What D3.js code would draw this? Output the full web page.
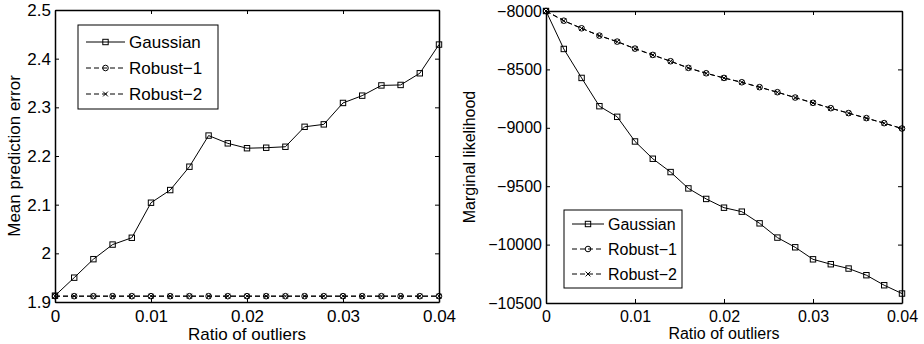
<!DOCTYPE html>
<html>
<head>
<meta charset="utf-8">
<script src="https://cdn.jsdelivr.net/npm/d3@7/dist/d3.min.js"></script>
<style>
  body { margin: 0; background: #fff; }
  svg { display: block; font-family: "Liberation Sans", Arial, sans-serif; }
</style>
</head>
<body>
<svg id="chart" width="924" height="344"></svg>
<script>
// ratio of outliers, shared by both panels
const ratios = [0, 0.002, 0.004, 0.006, 0.008, 0.010, 0.012, 0.014, 0.016, 0.018, 0.020,
                0.022, 0.024, 0.026, 0.028, 0.030, 0.032, 0.034, 0.036, 0.038, 0.040];
const seriesNames = ["Gaussian", "Robust\u22121", "Robust\u22122"];
const xTicks = [0, 0.01, 0.02, 0.03, 0.04];

// left panel: mean prediction error
const errGaussian = [1.913, 1.950, 1.988, 2.018, 2.032, 2.104, 2.130, 2.178, 2.242, 2.226, 2.216,
                     2.217, 2.219, 2.260, 2.265, 2.309, 2.324, 2.345, 2.346, 2.370, 2.429];
const errRobust1 = [1.912, 1.912, 1.912, 1.912, 1.912, 1.912, 1.912, 1.912, 1.912, 1.912, 1.912,
                    1.912, 1.912, 1.912, 1.912, 1.912, 1.912, 1.912, 1.912, 1.912, 1.912];
const errRobust2 = [1.912, 1.912, 1.912, 1.912, 1.912, 1.912, 1.912, 1.912, 1.912, 1.912, 1.912,
                    1.912, 1.912, 1.912, 1.912, 1.912, 1.912, 1.912, 1.912, 1.912, 1.912];
const errTicks = [1.9, 2, 2.1, 2.2, 2.3, 2.4, 2.5];

// right panel: marginal likelihood
const mlGaussian = [-8000, -8325, -8573, -8815, -8906, -9117, -9265, -9379, -9519, -9609, -9684,
                    -9718, -9818, -9940, -10023, -10126, -10168, -10205, -10262, -10348, -10419];
const mlRobust1 = [-8000, -8083, -8148, -8211, -8262, -8322, -8376, -8430, -8487, -8533, -8573,
                   -8610, -8652, -8695, -8741, -8786, -8832, -8874, -8917, -8960, -9006];
const mlRobust2 = [-8000, -8084, -8149, -8212, -8263, -8323, -8377, -8431, -8488, -8534, -8574,
                   -8611, -8653, -8696, -8742, -8787, -8833, -8875, -8918, -8961, -9007];
const mlTicks = [-10500, -10000, -9500, -9000, -8500, -8000];

const svg = d3.select("#chart");

// marker drawing for each series style
function drawMarker(g, kind, cx, cy) {
  if (kind === "square") {
    g.append("rect").attr("x", cx - 2.7).attr("y", cy - 2.7)
      .attr("width", 5.4).attr("height", 5.4)
      .attr("fill", "none").attr("stroke", "#000").attr("stroke-width", 1);
  } else if (kind === "circle") {
    g.append("circle").attr("cx", cx).attr("cy", cy).attr("r", 2.8)
      .attr("fill", "none").attr("stroke", "#000").attr("stroke-width", 1);
  } else {
    const s = 2.4;
    g.append("path")
      .attr("d", `M${cx - s},${cy - s}L${cx + s},${cy + s}M${cx - s},${cy + s}L${cx + s},${cy - s}`)
      .attr("stroke", "#000").attr("stroke-width", 1);
  }
}

function drawPanel(cfg) {
  const x = d3.scaleLinear().domain([0, 0.04]).range(cfg.xRange);
  const y = d3.scaleLinear().domain(cfg.yDomain).range(cfg.yRange);
  const g = svg.append("g").style("font-size", cfg.fontSize + "px");

  const styles = [
    { values: cfg.series[0], dash: null, marker: "square" },
    { values: cfg.series[1], dash: "5,3", marker: "circle" },
    { values: cfg.series[2], dash: "5,3", marker: "cross" }
  ];

  const line = d3.line().x(d => x(d[0])).y(d => y(d[1]));

  // draw lines then markers
  styles.slice().reverse().forEach(s => {
    const pts = ratios.map((r, i) => [r, s.values[i]]);
    g.append("path").datum(pts)
      .attr("d", line)
      .attr("fill", "none").attr("stroke", "#000").attr("stroke-width", 1)
      .attr("stroke-dasharray", s.dash);
    const mg = g.append("g");
    pts.forEach(p => drawMarker(mg, s.marker, x(p[0]), y(p[1])));
  });

  // axes with inward ticks on all four sides
  const [x0, x1] = cfg.xRange;
  const [yb, yt] = cfg.yRange;
  const fmtX = d => d === 0 ? "0" : d3.format(".2f")(d);

  const bottom = g.append("g").attr("transform", `translate(0,${yb})`)
    .call(d3.axisBottom(x).tickValues(xTicks).tickFormat(fmtX).tickSize(-4).tickSizeOuter(0).tickPadding(8));
  const top = g.append("g").attr("transform", `translate(0,${yt})`)
    .call(d3.axisTop(x).tickValues(xTicks).tickFormat("").tickSize(-4).tickSizeOuter(0));
  const left = g.append("g").attr("transform", `translate(${x0},0)`)
    .call(d3.axisLeft(y).tickValues(cfg.yTicks).tickFormat(cfg.yFormat).tickSize(-4).tickSizeOuter(0).tickPadding(4));
  const right = g.append("g").attr("transform", `translate(${x1},0)`)
    .call(d3.axisRight(y).tickValues(cfg.yTicks).tickFormat("").tickSize(-4).tickSizeOuter(0));

  [bottom, top, left, right].forEach(a => {
    a.selectAll("path.domain").attr("stroke", "#000").attr("stroke-width", 1.5);
    a.selectAll(".tick line").attr("stroke", "#000").attr("stroke-width", 1);
    a.selectAll("text").attr("fill", "#000").style("font-size", cfg.fontSize + "px")
      .style("font-family", "'Liberation Sans', Arial, sans-serif");
  });

  // axis titles
  g.append("text")
    .attr("x", (x0 + x1) / 2).attr("y", cfg.xTitleY)
    .attr("text-anchor", "middle").text("Ratio of outliers");
  g.append("text")
    .attr("transform", `translate(${cfg.yTitleX},${(yb + yt) / 2}) rotate(-90)`)
    .attr("text-anchor", "middle").text(cfg.yTitle);

  // legend
  const L = cfg.legend;
  g.append("rect")
    .attr("x", L.x).attr("y", L.y).attr("width", L.w).attr("height", L.h)
    .attr("fill", "#fff").attr("stroke", "#000").attr("stroke-width", 1);
  styles.forEach((s, i) => {
    const ly = L.y + L.first + i * L.step;
    g.append("line")
      .attr("x1", L.lineX0).attr("x2", L.lineX1).attr("y1", ly).attr("y2", ly)
      .attr("stroke", "#000").attr("stroke-width", 1).attr("stroke-dasharray", s.dash);
    drawMarker(g, s.marker, (L.lineX0 + L.lineX1) / 2, ly);
    g.append("text")
      .attr("x", L.textX).attr("y", ly).attr("dy", "0.35em").text(seriesNames[i]);
  });
}

drawPanel({
  xRange: [55, 439], yRange: [302, 10], yDomain: [1.9, 2.5],
  yTicks: errTicks, yFormat: d => String(d),
  series: [errGaussian, errRobust1, errRobust2],
  fontSize: 17, xTitleY: 339.5, yTitleX: 20, yTitle: "Mean prediction error",
  legend: { x: 78, y: 25, w: 140, h: 84, first: 17, step: 26, lineX0: 86, lineX1: 125, textX: 129 }
});

drawPanel({
  xRange: [546, 902], yRange: [303, 11], yDomain: [-10500, -8000],
  yTicks: mlTicks, yFormat: d3.format("d"),
  series: [mlGaussian, mlRobust1, mlRobust2],
  fontSize: 16, xTitleY: 339, yTitleX: 475, yTitle: "Marginal likelihood",
  legend: { x: 564, y: 210, w: 118, h: 78, first: 14, step: 25, lineX0: 572, lineX1: 604, textX: 608 }
});
</script>
</body>
</html>
